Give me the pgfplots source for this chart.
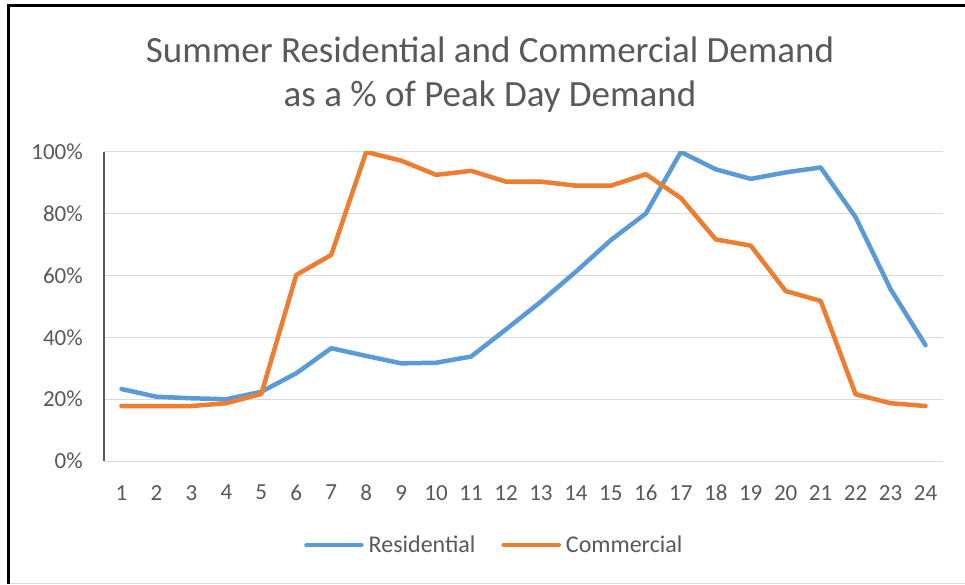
\documentclass[border=0pt]{standalone}
\usepackage{fontspec}
\setmainfont{Carlito}
\usepackage{pgfplots}
\pgfplotsset{compat=1.18}
\definecolor{resblue}{HTML}{5B9BD5}
\definecolor{comorange}{HTML}{ED7D31}
\definecolor{gridgray}{HTML}{D9D9D9}
\definecolor{txtgray}{HTML}{595959}
\begin{document}
\begin{tikzpicture}[x=1pt,y=1pt]
\useasboundingbox (0,0) rectangle (965,584);
\fill[white] (0,0) rectangle (965,584);
\draw[black, line width=3pt] (8.5,0) -- (8.5,578.5) -- (965,578.5);
\draw[gridgray, line width=1pt] (10,1) -- (965,1);
\node[txtgray, font=\fontsize{37}{44}\selectfont] at (490,534) {Summer Residential and Commercial Demand};
\node[txtgray, font=\fontsize{37}{44}\selectfont] at (490,487) {as a \% of Peak Day Demand};
\begin{axis}[
  at={(104pt,123pt)}, anchor=south west,
  scale only axis, width=839pt, height=309pt,
  xmin=0.5, xmax=24.5, ymin=0, ymax=100,
  xtick={1,...,24}, ytick={0,20,...,100},
  yticklabel={\pgfmathprintnumber{\tick}\%},
  /pgf/number format/assume math mode=true,
  axis x line*=bottom, axis y line*=left,
  x axis line style={draw=gridgray, line width=1pt},
  y axis line style={draw=txtgray, line width=1.5pt},
  major tick length=0pt,
  ymajorgrids, grid style={draw=gridgray, line width=1pt},
  tick label style={txtgray, font=\fontsize{23}{27}\selectfont, inner sep=0pt},
  yticklabel style={anchor=east, xshift=-21pt},
  xticklabel style={anchor=north, yshift=-24pt},
  legend columns=2,
  legend style={at={(0.467,-0.272)}, anchor=center, draw=none, fill=none,
    font=\fontsize{24}{28}\selectfont, text=txtgray,
    nodes={inner xsep=5pt},
    /tikz/every even column/.append style={column sep=21pt}},
  legend image code/.code={\draw[#1] (0pt,0pt) -- (55pt,0pt);},
  every axis plot/.append style={line width=4.5pt, line join=round, line cap=round, mark=none},
]
\addplot[resblue] coordinates {
(1,23.3) (2,20.8) (3,20.3) (4,20.0) (5,22.4) (6,28.4) (7,36.5) (8,34.0)
(9,31.6) (10,31.8) (11,33.8) (12,42.6) (13,51.6) (14,61.3) (15,71.5) (16,80.1)
(17,100) (18,94.4) (19,91.3) (20,93.4) (21,95.0) (22,78.9) (23,55.6) (24,37.5)};
\addlegendentry{Residential}
\addplot[comorange] coordinates {
(1,17.8) (2,17.8) (3,17.8) (4,18.7) (5,21.7) (6,60.2) (7,66.7) (8,100)
(9,97.2) (10,92.6) (11,93.9) (12,90.4) (13,90.4) (14,89.1) (15,89.1) (16,92.8)
(17,85.1) (18,71.7) (19,69.7) (20,55.0) (21,51.8) (22,21.6) (23,18.7) (24,17.8)};
\addlegendentry{Commercial}
\end{axis}
\end{tikzpicture}
\end{document}
